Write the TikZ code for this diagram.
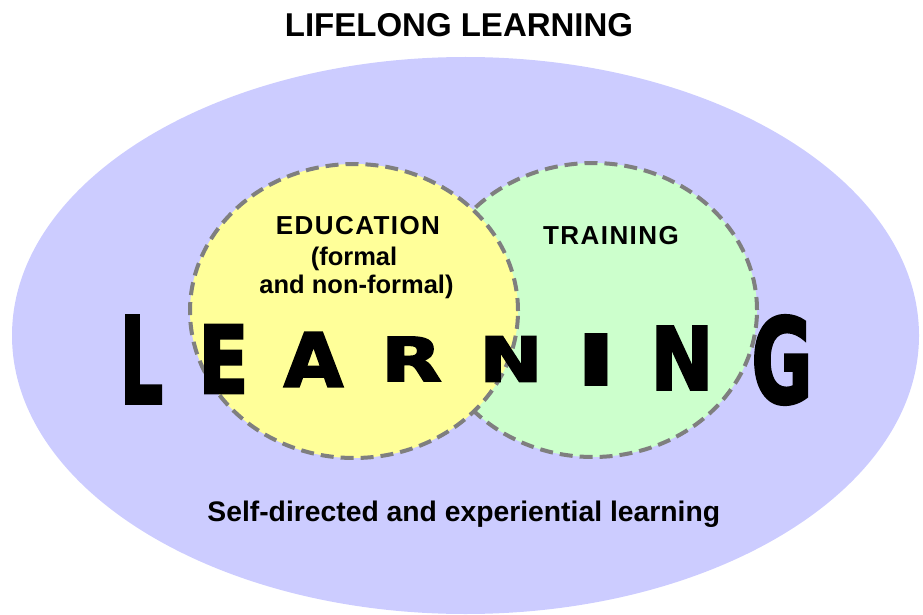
\documentclass[tikz,border=0pt]{standalone}
\usepackage{fontspec}
\usepackage{graphicx}
\setmainfont{Liberation Sans}
\newfontfamily\lfont[BoldFeatures={FakeBold=3}]{DejaVu Sans}
\definecolor{lav}{HTML}{CCCCFF}
\definecolor{ylw}{HTML}{FFFF99}
\definecolor{grn}{HTML}{CCFFCC}
\definecolor{rim}{HTML}{7F7F7F}
\tikzset{
  set/.style={draw=rim, line width=4pt, dash pattern=on 13pt off 7pt},
  lbl/.style={anchor=base, inner sep=0pt, font=\bfseries\fontsize{25.5}{25.5}\selectfont},
  caplbl/.style={anchor=base, inner sep=0pt, font=\bfseries\fontsize{26}{26}\selectfont\addfontfeatures{LetterSpace=5.5}},
  letter/.style={inner sep=0pt, anchor=center},
}
\newcommand{\wl}[3]{\resizebox{#1pt}{#2pt}{\lfont\bfseries\fontsize{60}{60}\selectfont #3}}
\newcommand{\wi}[3]{\resizebox{#1pt}{#2pt}{\bfseries\fontsize{60}{60}\selectfont #3}}
\begin{document}
\begin{tikzpicture}[x=1pt,y=-1pt]
\useasboundingbox (0,0) rectangle (923,615);
\clip (0,0) rectangle (923,615);
\fill[lav] (465.5,335.5) ellipse [x radius=453.5pt, y radius=278.5pt];
\filldraw[fill=grn, set] (593,310) ellipse [x radius=164pt, y radius=147pt];
\filldraw[fill=ylw, set] (354,311) ellipse [x radius=164pt, y radius=147pt];
\node[lbl, font=\bfseries\fontsize{33}{33}\selectfont] (title) at (459,37) {LIFELONG LEARNING};
\node[caplbl] (edu) at (358,234.5) {EDUCATION};
\node[lbl] (edu2) at (354,265) {(formal};
\node[lbl] (edu3) at (356.5,293) {and non-formal)};
\node[caplbl] (train) at (611,244) {TRAINING};
\node[lbl, font=\bfseries\fontsize{28.3}{28.3}\selectfont] (self) at (463.75,521.5) {Self-directed and experiential learning};
\node[letter] (L1) at (141.5,359.5) {\wl{43}{87}{L}};
\node[letter] (L2) at (223.5,359) {\wl{50}{68}{E}};
\node[letter] (L3) at (313.5,359.5) {\wl{59}{54}{A}};
\node[letter] (L4) at (411.5,359) {\wl{60}{44}{R}};
\node[letter] (L5) at (511,359) {\wl{63}{45}{N}};
\node[letter] (L6) at (596.5,359.5) {\wi{44}{53}{I}};
\node[letter] (L7) at (682,358) {\wl{63}{63}{N}};
\node[letter] (L8) at (782,360) {\wl{61}{87}{G}};
\end{tikzpicture}
\end{document}
